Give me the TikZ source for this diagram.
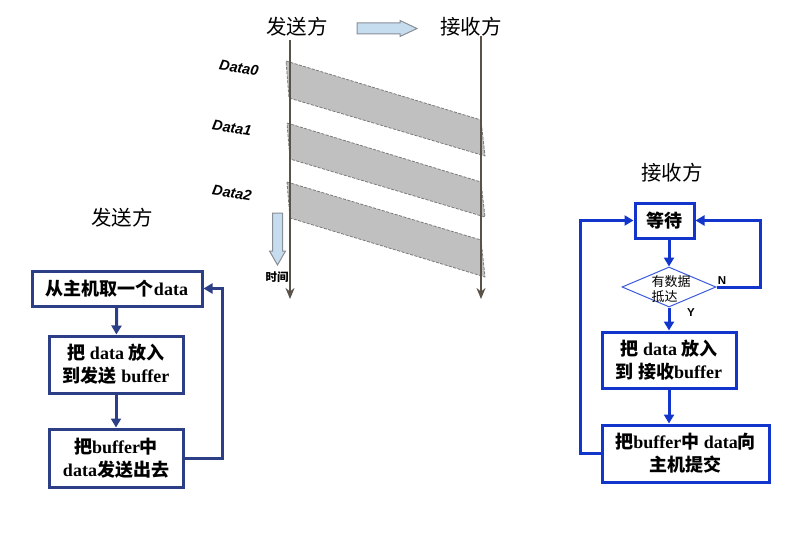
\documentclass[tikz,border=0pt]{standalone}
\usepackage{fontspec}
\setmainfont{Liberation Serif}
\newfontfamily\cjk{Noto Sans CJK SC}
\newfontfamily\arialf{Liberation Sans}
\usetikzlibrary{arrows.meta, positioning, shapes.geometric}
\definecolor{sdnavy}{HTML}{2C3E86}
\definecolor{rvblue}{HTML}{1236CC}
\definecolor{dmblue}{HTML}{3A5BDD}
\definecolor{pktgray}{HTML}{C0C0C0}
\definecolor{edgegray}{HTML}{7A7A7A}
\definecolor{tlbrown}{HTML}{5A5148}
\definecolor{hintblue}{HTML}{C6DCEF}
\definecolor{hintedge}{HTML}{8A8F96}
\newcommand{\zh}[1]{{\cjk #1}}

\begin{document}
\begin{tikzpicture}[x=1pt, y=-1pt, >={Triangle[length=9pt, width=10pt]}]

\useasboundingbox (0,0) rectangle (789,535);

\tikzset{
  title/.style={font=\fontsize{20.5}{24}\selectfont\cjk},
  sbox/.style={draw=sdnavy, line width=3pt, align=center, inner sep=0pt,
    font=\bfseries\fontsize{18}{23}\selectfont},
  rbox/.style={sbox, draw=rvblue},
  sline/.style={sdnavy, line width=3pt, ->},
  rline/.style={rvblue, line width=3pt, ->},
  pkt/.style={fill=pktgray, draw=edgegray, line width=0.8pt, dash pattern=on 3pt off 1.5pt},
  dlabel/.style={font=\arialf\bfseries\itshape\fontsize{14.5}{14.5}\selectfont, rotate=-10},
  tline/.style={tlbrown, line width=2pt, -{Stealth[length=11pt, width=9pt]}},
  hint/.style={fill=hintblue, draw=hintedge, line width=1pt}
}

% Top: sender / receiver timeline
\node[title] (sndtop) at (297,27) {发送方};
\node[title] (rcvtop) at (471,27) {接收方};
\draw[hint] (357,23) -- (400,23) -- (400,20.5) -- (417,28.5) -- (400,36.5)
  -- (400,34) -- (357,34) -- cycle;

% Packets in flight
\draw[pkt] (286,61) -- (481,120) -- (485,156) -- (289,98) -- cycle;
\draw[pkt] (287,123) -- (481,182) -- (485,217) -- (290,159) -- cycle;
\draw[pkt] (287,182) -- (481,240) -- (485,277) -- (290,218) -- cycle;

\node[dlabel] (d0) at (239,68) {Data0};
\node[dlabel] (d1) at (232,128) {Data1};
\node[dlabel] (d2) at (232,193) {Data2};

% Time axes
\draw[tline] (290,40) -- (290,299);
\draw[tline] (481,36) -- (481,299);

% Time hint
\draw[hint] (272.5,213) -- (282.5,213) -- (282.5,251) -- (285.5,251) -- (277.5,265)
  -- (269.5,251) -- (272.5,251) -- cycle;
\node[font=\cjk\bfseries\fontsize{11.5}{11.5}\selectfont] (tm) at (277,277) {时间};

% Sender flow
\node[title] (sndttl) at (122,218) {发送方};
\node[sbox, minimum width=170pt, minimum height=35pt] (s1) at (117,288.5)
  {\zh{从主机取一个}data};
\node[sbox, minimum width=134pt, minimum height=57pt] (s2) at (116,364.5)
  {\zh{把} data \zh{放入}\\\zh{到发送} buffer};
\node[sbox, minimum width=134pt, minimum height=58pt] (s3) at (116,458)
  {\zh{把}buffer\zh{中}\\data\zh{发送出去}};

\draw[sline] (s1) -- (s2);
\draw[sline] (s2) -- (s3);
\draw[sline] (s3.east) -- ++(38,0) |- (s1.east);

% Receiver flow
\node[title] (rcvttl) at (672,173) {接收方};
\node[rbox, minimum width=59pt, minimum height=35pt] (r1) at (664.5,220.5)
  {\zh{等待}};
\node[diamond, draw=dmblue, line width=1pt, minimum width=94pt,
  minimum height=40pt, inner sep=0pt] (r2) at (669,287) {};
\node[font=\cjk\fontsize{13}{15}\selectfont, align=left] (r2txt) at (671,289)
  {有数据\\抵达};
\node[rbox, minimum width=134pt, minimum height=56pt] (r3) at (669,360)
  {\zh{把} data \zh{放入}\\\zh{到 接收}buffer};
\node[rbox, minimum width=167pt, minimum height=57pt] (r4) at (685.5,453.5)
  {\zh{把}buffer\zh{中} data\zh{向}\\\zh{主机提交}};

\node[font=\arialf\bfseries\fontsize{11.5}{11.5}\selectfont] (nlab) at (722,281) {N};
\node[font=\arialf\bfseries\fontsize{11.5}{11.5}\selectfont] (ylab) at (691,313) {Y};

\draw[rline] (r2.north |- r1.south) -- (r2.north);
\draw[rline] (r2) -- (r2.south |- r3.north);
\draw[rline] (r2.south |- r3.south) -- (r2.south |- r4.north);
\draw[rline] (r2.east) -- ++(44,0) |- (r1.east);
\draw[rline] (r4.west) -- ++(-20,0) |- (r1.west);

\end{tikzpicture}
\end{document}
